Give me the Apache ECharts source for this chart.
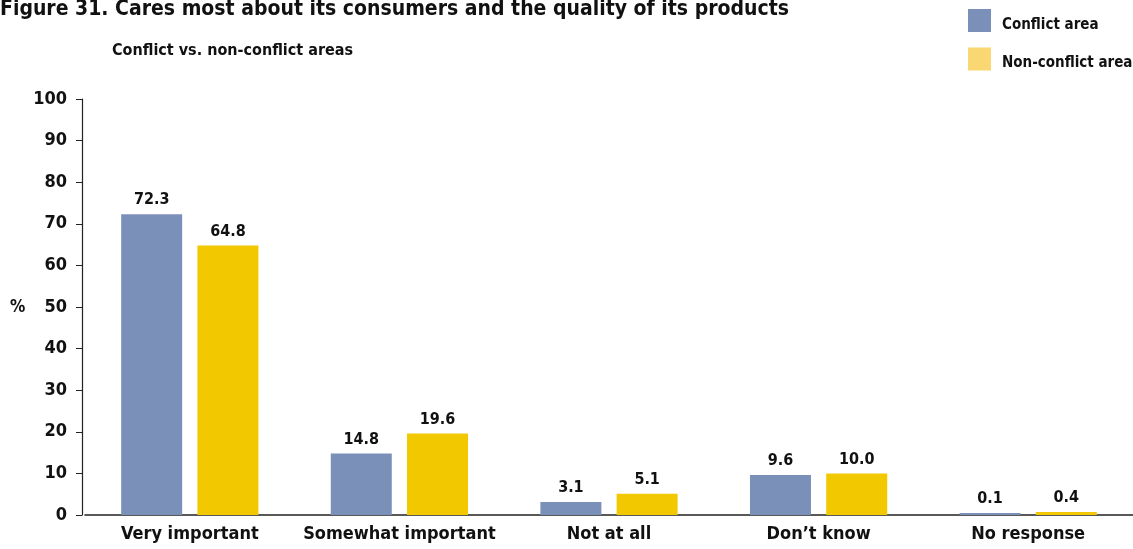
<!DOCTYPE html>
<html><head><meta charset="utf-8">
<script src="https://cdn.jsdelivr.net/npm/echarts@6/dist/echarts.min.js"></script>
<style>html,body{margin:0;padding:0;background:#fff}#c{width:1133px;height:549px}</style>
</head><body><div id="c"></div>
<script>
const categories = ['Very important', 'Somewhat important', 'Not at all', 'Don\u2019t know', 'No response'];
const conflictValues = [72.3, 14.8, 3.1, 9.6, 0.1];
const nonConflictValues = [64.8, 19.6, 5.1, 10.0, 0.4];
const seriesNames = ['Conflict area', 'Non-conflict area'];
const titleText = 'Figure 31. Cares most about its consumers and the quality of its products';
const subtitleText = 'Conflict vs. non-conflict areas';

const FONT = '"Liberation Sans Narrow", "DejaVu Sans Condensed", Arial, sans-serif';
const chart = echarts.init(document.getElementById('c'));
const lbl = {show: true, position: 'top', distance: 6, color: '#111', fontFamily: FONT, fontWeight: 'bold', fontSize: 16,
  formatter: p => p.value.toFixed(1)};
chart.setOption({
  animation: false,
  textStyle: {fontFamily: FONT},
  title: [
    {text: titleText, left: 0, top: -1, padding: 0, textStyle: {fontFamily: FONT, fontWeight: 'bold', fontSize: 21, color: '#111'}},
    {text: subtitleText, left: 112, top: 43, padding: 0, textStyle: {fontFamily: FONT, fontWeight: 'bold', fontSize: 16, color: '#111'}}
  ],
  legend: {
    orient: 'vertical', left: 968, top: 9, padding: 0, itemWidth: 23, itemHeight: 23, itemGap: 15, icon: 'rect',
    formatter: '{t|{name}}',
    textStyle: {fontFamily: FONT, fontWeight: 'bold', fontSize: 15, color: '#111',
      rich: {t: {fontFamily: FONT, fontWeight: 'bold', fontSize: 15, color: '#111', padding: [9, 0, 0, 6]}}},
    data: [{name: seriesNames[0], itemStyle: {color: '#7b90b9'}}, {name: seriesNames[1], itemStyle: {color: '#f9d773'}}]
  },
  graphic: [{type: 'text', left: 10, top: 299, style: {text: '%', fontFamily: FONT, fontWeight: 'bold', fontSize: 17, fill: '#111'}}],
  grid: {left: 85, top: 99, width: 1054, bottom: 34, containLabel: false},
  xAxis: {
    type: 'category', data: categories,
    axisLine: {lineStyle: {color: '#222', width: 1.5}}, axisTick: {show: false},
    axisLabel: {color: '#111', fontFamily: FONT, fontWeight: 'bold', fontSize: 18, margin: 10, interval: 0}
  },
  yAxis: {
    type: 'value', min: 0, max: 100, interval: 10, offset: 3,
    axisLine: {show: true, lineStyle: {color: '#222', width: 1.2}},
    axisTick: {show: true, length: 6, lineStyle: {color: '#222'}},
    splitLine: {show: false},
    axisLabel: {color: '#111', fontFamily: FONT, fontWeight: 'bold', fontSize: 18, margin: 15}
  },
  series: [
    {name: seriesNames[0], type: 'bar', data: conflictValues, barWidth: 61, barGap: '25%', barMinHeight: 2,
     itemStyle: {color: '#7b90b9'}, label: lbl},
    {name: seriesNames[1], type: 'bar', data: nonConflictValues, barWidth: 61, barMinHeight: 3,
     itemStyle: {color: '#f2c800'}, label: lbl}
  ]
});
</script></body></html>
